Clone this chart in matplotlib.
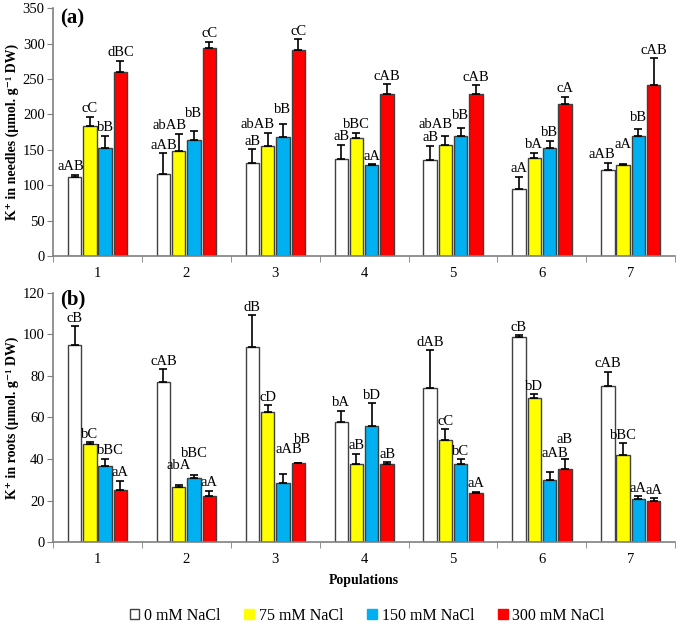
import matplotlib
matplotlib.use('Agg')
import matplotlib.pyplot as plt
from matplotlib.patches import Patch
import numpy as np

#Data
populations = ['1', '2', '3', '4', '5', '6', '7']
treatments = ['0 mM NaCl', '75 mM NaCl', '150 mM NaCl', '300 mM NaCl']

needles_0 = [111, 116, 131, 137, 135, 94, 121]
needles_75 = [184, 148, 155, 167, 157, 139, 129]
needles_150 = [152, 164, 168, 128, 169, 152, 169]
needles_300 = [260, 294, 291, 229, 229, 214, 242]
needles_err_0 = [4, 29, 20, 20, 21, 18, 11]
needles_err_75 = [13, 25, 19, 7, 13, 7, 1]
needles_err_150 = [18, 12, 18, 1.5, 12, 11, 11]
needles_err_300 = [16, 8.5, 15, 14, 12, 11, 37]
needles_lab_0 = ['aAB', 'aAB', 'aB', 'aB', 'aB', 'aA', 'aAB']
needles_lab_75 = ['cC', 'abAB', 'abAB', 'bBC', 'abAB', 'bA', 'aA']
needles_lab_150 = ['bB', 'bB', 'bB', 'aA', 'bB', 'bB', 'bB']
needles_lab_300 = ['dBC', 'cC', 'cC', 'cAB', 'cAB', 'cA', 'cAB']

roots_0 = [95, 77, 94, 58, 74, 98.7, 75]
roots_75 = [47, 26.5, 62.8, 37.4, 49, 69.3, 42.1]
roots_150 = [36.5, 31, 28.2, 55.7, 37.5, 30.1, 20.6]
roots_300 = [25, 22, 38, 37.5, 23.5, 35, 20]
roots_err_0 = [9, 6.3, 15.4, 5.2, 18.3, 1.1, 7]
roots_err_75 = [1, 0.8, 3.2, 5.2, 5.5, 1.9, 5.5]
roots_err_150 = [3.7, 1.5, 4.7, 11.2, 2.4, 3.7, 1.6]
roots_err_300 = [4.5, 2.8, 0.3, 1, 0.8, 5.2, 1]
roots_lab_0 = ['cB', 'cAB', 'dB', 'bA', 'dAB', 'cB', 'cAB']
roots_lab_75 = ['bC', 'abA', 'cD', 'aB', 'cC', 'bD', 'bBC']
roots_lab_150 = ['bBC', 'bBC', 'aAB', 'bD', 'bC', 'aAB', 'aA']
roots_lab_300 = ['aA', 'aA', 'bB', 'aB', 'aA', 'aB', 'aA']

colors = ['white', '#FFFF00', '#00B0F0', '#FF0000']

#label nudges (dx, dy in points) where the original moved a letter group to avoid overlap
nudge_a = {(0, 0): (-3, 0), (6, 0): (-4, 0), (1, 1): (-6.5, 0), (2, 1): (-7, 0), (4, 1): (-7, 2),
           (1, 2): (0, 7), (2, 2): (0, 5), (4, 2): (0, 3.5), (6, 1): (0, 8.6), (6, 2): (0, 2)}
nudge_b = {(0, 2): (4, 0), (1, 1): (0, 8.6), (1, 2): (0, 9.4), (2, 2): (4, 11.5), (2, 3): (3, 10.8),
           (5, 2): (4, 7.2), (5, 3): (0, 7.9)}

plt.rcParams['font.family'] = ['Liberation Serif', 'DejaVu Serif']


def draw_panel(ax, values, errors, labels, nudge, ymax, ystep, ylabel, tag, tag_y):
    x = np.arange(1, len(populations) + 1)
    width = 0.15
    step = 0.172
    for i in range(4):
        xs = x + (i - 1.5) * step
        ax.bar(xs, values[i], width, color=colors[i], edgecolor='#404040', linewidth=1, zorder=2)
        ax.errorbar(xs, values[i], yerr=[np.zeros(len(x)), errors[i]], fmt='none',
                    ecolor='black', elinewidth=1.2, capsize=3, capthick=1.2, zorder=3)
        for j in range(len(x)):
            top = values[i][j] + errors[i][j]
            dx, dy = nudge.get((j, i), (0, 0))
            ax.annotate(labels[i][j], (xs[j], top), xytext=(dx, 1 + dy),
                        textcoords='offset points', ha='center', va='bottom', fontsize=10.5)
    ax.set_xlim(0.5, len(x) + 0.5)
    ax.set_ylim(0, ymax)
    ax.set_yticks(np.arange(0, ymax + 1, ystep))
    ax.set_xticks(x)
    ax.set_xticklabels(populations)
    ax.set_xticks(np.arange(0.5, len(x) + 1, 1), minor=True)
    ax.tick_params(axis='x', which='major', length=0, labelsize=10.5, pad=8)
    ax.tick_params(axis='x', which='minor', length=4, color='#808080', direction='out')
    ax.tick_params(axis='y', length=4, color='#808080', labelsize=10.5, direction='out', pad=2)
    for s in ['top', 'right']:
        ax.spines[s].set_visible(False)
    for s in ['left', 'bottom']:
        ax.spines[s].set_color('#808080')
        ax.spines[s].set_linewidth(1.2)
    ax.set_ylabel(ylabel, fontsize=10, fontweight='bold', labelpad=3)
    ax.text(0.012, tag_y, tag, transform=ax.transAxes, fontsize=15, fontweight='bold',
            ha='left', va='center')


fig = plt.figure(figsize=(6.8, 6.32), dpi=100)
ax1 = fig.add_axes([0.078, 0.595, 0.915, 0.392])
ax2 = fig.add_axes([0.078, 0.1424, 0.915, 0.394])

draw_panel(ax1,
           [needles_0, needles_75, needles_150, needles_300],
           [needles_err_0, needles_err_75, needles_err_150, needles_err_300],
           [needles_lab_0, needles_lab_75, needles_lab_150, needles_lab_300],
           nudge_a, 350, 50, 'K⁺ in needles (µmol. g⁻¹ DW)', '(a)', 0.96)
draw_panel(ax2,
           [roots_0, roots_75, roots_150, roots_300],
           [roots_err_0, roots_err_75, roots_err_150, roots_err_300],
           [roots_lab_0, roots_lab_75, roots_lab_150, roots_lab_300],
           nudge_b, 120, 20, 'K⁺ in roots (µmol. g⁻¹ DW)', '(b)', 0.972)
ax2.set_xlabel('Populations', fontsize=10, fontweight='bold', labelpad=6)

handles = [Patch(facecolor=c, edgecolor='#404040' if c == 'white' else c, linewidth=1) for c in colors]
fig.legend(handles, treatments, loc='center', bbox_to_anchor=(0.54, 0.026), ncol=4,
           frameon=False, fontsize=11.5, handlelength=0.6, handleheight=0.6,
           handletextpad=0.3, columnspacing=1.5)

fig.savefig('out.png', dpi=100)
